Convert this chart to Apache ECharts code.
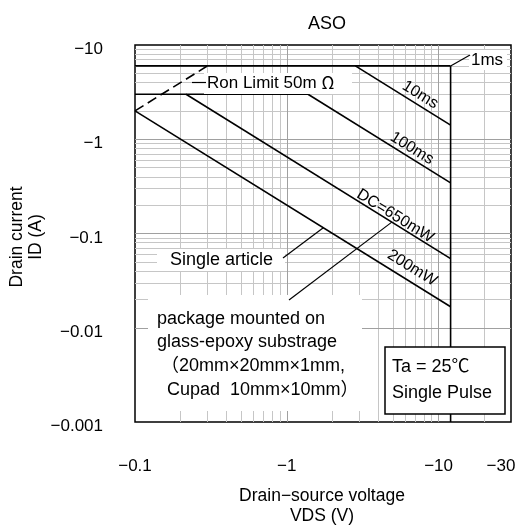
<!DOCTYPE html>
<html>
<head>
<meta charset="utf-8">
<script src="https://cdn.jsdelivr.net/npm/echarts@6/dist/echarts.min.js"></script>
<style>
  html, body { margin: 0; padding: 0; background: #fff; }
  #chart { width: 531px; height: 528px; }
</style>
</head>
<body>
<div id="chart"></div>
<script>
// Tick values (magnitudes; labels are printed with a minus sign, P-channel device)
const xTicks = [0.1, 1, 10, 30];
const yTicks = [0.001, 0.01, 0.1, 1, 10];

// Safe operating area boundaries, [VDS (V), ID (A)]
const ronLimit   = [[0.1, 2], [0.3, 6]];       // Ron limit 50 mΩ
const idPulse    = [[0.1, 6], [12, 6]];        // pulsed drain current (1 ms)
const idDc       = [[0.1, 3], [1.38, 3]];      // continuous drain current
const vdssLimit  = [[12, 6], [12, 0.001]];     // drain-source breakdown
const pulse10ms  = [[2.83, 6], [12, 1.41]];
const pulse100ms = [[1.38, 3], [12, 0.345]];
const dc650mW    = [[0.217, 3], [12, 0.0542]];
const dc200mW    = [[0.1, 2], [12, 0.0167]];

// Points on the curves that the callout leaders point at
const singleArticleTip = [1.74, 0.115];
const packageTip       = [4.92, 0.132];

// Log-paper grid lines
const mantissas = [2, 3, 4, 5, 6, 7, 8, 9];
const xMajorGrid = [1, 10];
const yMajorGrid = [0.01, 0.1, 1];
const xMinorGrid = [];
[0.1, 1, 10].forEach(d => mantissas.forEach(m => { if (d * m < 30) xMinorGrid.push(+(d * m).toPrecision(3)); }));
const yMinorGrid = [];
[0.001, 0.01, 0.1, 1].forEach(d => mantissas.forEach(m => yMinorGrid.push(+(d * m).toPrecision(3))));

const FONT = "'Liberation Sans', 'Noto Sans CJK JP', sans-serif";
const CJK = "'Noto Sans CJK JP', sans-serif";

function findTick(list, v) {
  return list.find(t => Math.abs(Math.log10(t) - Math.log10(v)) < 1e-6);
}

const chart = echarts.init(document.getElementById('chart'), null, { renderer: 'canvas' });

function curve(name, data, dashed) {
  return {
    name, type: 'line', data, symbol: 'none', z: 3, silent: true,
    lineStyle: { color: '#000', width: 1.6, type: dashed ? [10, 5] : 'solid' }
  };
}

const minorStyle = { color: '#c6c6c6', width: 1, type: 'solid' };
const majorStyle = { color: '#a0a0a0', width: 1, type: 'solid' };
const gridLines = [];
xMinorGrid.forEach(v => gridLines.push({ xAxis: v, lineStyle: minorStyle }));
yMinorGrid.forEach(v => gridLines.push({ yAxis: v, lineStyle: minorStyle }));
xMajorGrid.forEach(v => gridLines.push({ xAxis: v, lineStyle: majorStyle }));
yMajorGrid.forEach(v => gridLines.push({ yAxis: v, lineStyle: majorStyle }));

chart.setOption({
  animation: false,
  backgroundColor: '#fff',
  title: {
    text: 'ASO', left: 322, top: 10, textAlign: 'center',
    textStyle: { fontFamily: FONT, fontSize: 18, fontWeight: 'normal', color: '#000' }
  },
  grid: {
    left: 135, top: 45, width: 376, height: 377,
    show: true, borderColor: '#000', borderWidth: 1.5, backgroundColor: 'transparent',
    outerBoundsMode: 'none', containLabel: false
  },
  xAxis: {
    type: 'log', logBase: 10, min: 0.1, max: 30,
    axisLine: { show: false }, axisTick: { show: false },
    splitLine: { show: false }, minorSplitLine: { show: false },
    axisLabel: {
      show: true, margin: 36, fontFamily: FONT, fontSize: 17, color: '#000',
      showMinLabel: true, showMaxLabel: true,
      formatter: v => {
        const t = findTick(xTicks, v);
        if (t === undefined) return '';
        return t === 30 ? '{r|\u2212' + t + '}' : '\u2212' + t;
      },
      rich: { r: { fontFamily: FONT, fontSize: 17, color: '#000', padding: [0, 20, 0, 0] } }
    }
  },
  yAxis: {
    type: 'log', logBase: 10, min: 0.001, max: 10,
    axisLine: { show: false }, axisTick: { show: false },
    splitLine: { show: false }, minorSplitLine: { show: false },
    axisLabel: {
      show: true, margin: 32, color: '#000',
      showMinLabel: true, showMaxLabel: true,
      formatter: v => {
        const t = findTick(yTicks, v);
        return t === undefined ? '' : '{v|\u2212' + t + '}';
      },
      rich: { v: { fontFamily: FONT, fontSize: 17, color: '#000', padding: [9, 0, 0, 0] } }
    }
  },
  series: [
    {
      name: 'grid', type: 'line', data: [], z: 1, silent: true,
      markLine: { z: 1, silent: true, symbol: ['none', 'none'], label: { show: false },
        animation: false, data: gridLines }
    },
    curve('Ron limit', ronLimit, true),
    curve('ID pulse', idPulse),
    curve('ID DC', idDc),
    curve('VDSS', vdssLimit),
    curve('10ms', pulse10ms),
    curve('100ms', pulse100ms),
    curve('DC 650mW', dc650mW),
    curve('DC 200mW', dc200mW)
  ]
});

// Annotations
const px = p => chart.convertToPixel({ gridIndex: 0 }, p);
function slopeAngle(seg) {
  const a = px(seg[0]), b = px(seg[1]);
  return -Math.atan2(b[1] - a[1], b[0] - a[0]);
}
function text(str, x, y, size, extra) {
  return {
    type: 'text', x, y, z: 20, silent: true,
    style: Object.assign({ text: str, fontFamily: FONT, fontSize: size || 18, fill: '#000',
      align: 'left', verticalAlign: 'middle' }, extra || {})
  };
}
function onCurve(str, seg, at) {
  const p = px(at);
  return {
    type: 'text', x: p[0], y: p[1], rotation: slopeAngle(seg), z: 20, silent: true,
    style: { text: str, fontFamily: FONT, fontSize: 16, fill: '#000', align: 'center', verticalAlign: 'middle' }
  };
}
function seg(a, b, w) {
  return { type: 'line', z: 20, silent: true, shape: { x1: a[0], y1: a[1], x2: b[0], y2: b[1] },
    style: { stroke: '#000', lineWidth: w || 1.2 } };
}
function whiteRect(x, y, w, h, border) {
  return { type: 'rect', z: 15, silent: true, shape: { x, y, width: w, height: h },
    style: { fill: '#fff', stroke: border ? '#000' : null, lineWidth: border ? 1.5 : 0 } };
}

const elements = [
  // y-axis name
  {
    type: 'text', x: 27, y: 237, rotation: Math.PI / 2, z: 20, silent: true,
    style: { text: 'Drain current\nID (A)', fontFamily: FONT, fontSize: 17.5, lineHeight: 19,
      fill: '#000', align: 'center', verticalAlign: 'middle' }
  },
  // x-axis name
  {
    type: 'text', x: 322, y: 506, z: 20, silent: true,
    style: { text: 'Drain\u2212source voltage\nVDS (V)', fontFamily: FONT, fontSize: 17.5, lineHeight: 20,
      fill: '#000', align: 'center', verticalAlign: 'middle' }
  },

  // Ron limit callout
  whiteRect(204, 73, 148, 21),
  seg([192, 82.5], [206, 82.5]),
  text('{a|Ron Limit 50m}{o|\u03a9}', 207, 83, 17, {
    rich: {
      a: { fontFamily: FONT, fontSize: 17, fill: '#000' },
      o: { fontFamily: CJK, fontSize: 17, fill: '#000', padding: [0, 0, 0, 5] }
    }
  }),

  // 1 ms callout
  whiteRect(469, 50, 38, 20),
  seg(px([12, 6]), [470, 55]),
  text('1ms', 471, 60, 17),

  // pulse width / power labels along the curves
  onCurve('10ms', pulse10ms, [7.56, 2.95]),
  onCurve('100ms', pulse100ms, [6.67, 0.80]),
  onCurve('DC=650mW', dc650mW, [5.18, 0.153]),
  onCurve('200mW', dc200mW, [6.7, 0.043]),

  // Single article callout
  whiteRect(157, 249, 128, 22),
  seg([283, 258], px(singleArticleTip)),
  text('Single article', 170, 260.5),

  // mounting note
  whiteRect(148, 295, 214, 116),
  seg([289, 300], px(packageTip)),
  text('package mounted on', 157, 319),
  text('glass-epoxy substrage', 157, 342),
  text('\uff0820mm\u00d720mm\u00d71mm,', 161, 366),
  text('Cupad  10mm\u00d710mm\uff09', 167, 390),

  // conditions box
  whiteRect(385, 347, 120, 67, true),
  text('Ta = 25\u2103', 392, 367),
  text('Single Pulse', 392, 393)
];

chart.setOption({ graphic: { elements } });
</script>
</body>
</html>
